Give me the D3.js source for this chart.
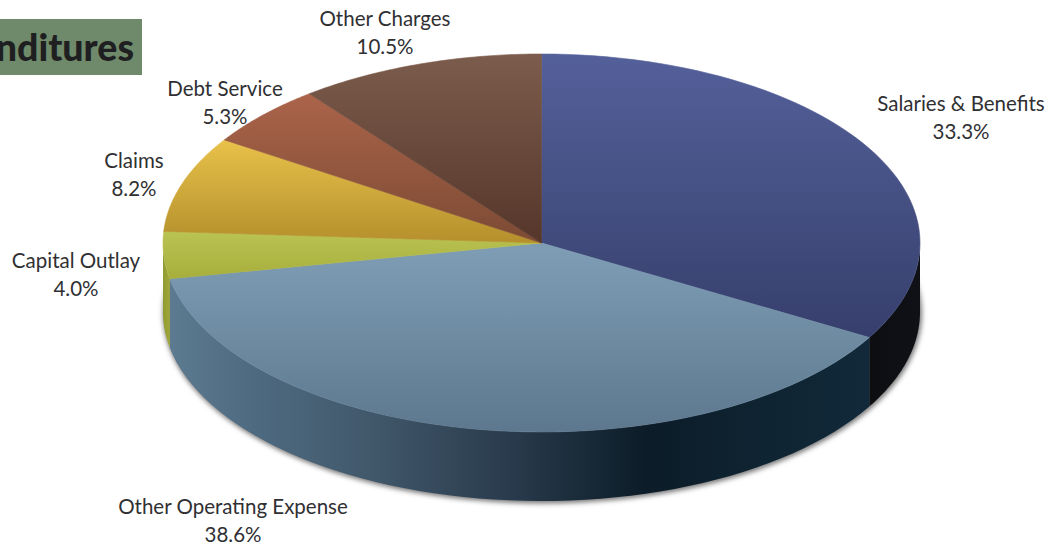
<!DOCTYPE html>
<html><head><meta charset="utf-8">
<script src="https://cdnjs.cloudflare.com/ajax/libs/d3/7.8.5/d3.min.js"></script>
<style>html,body{margin:0;padding:0;background:#fff}svg{display:block}
text{font-family:Lato,"Open Sans",sans-serif;fill:#303033}</style></head><body>
<svg id="c" width="1050" height="544"></svg>
<script>
const categories=["Salaries & Benefits","Other Operating Expense","Capital Outlay","Claims","Debt Service","Other Charges"];
const shares=[33.3,38.6,4.0,8.2,5.3,10.5];
const topLight=["#54609a","#7f9eb6","#bac453","#e8c24a","#ab644a","#7c5c4c"];
const topDark=["#363f6c","#5d788e","#a7ae3c","#b48f2c","#7c4a34","#55362a"];
const sideStops=[["#0d0e12","#0f1116"],["#5c7a90","#4e6a80","#42596c","#27394a","#0c1c28","#0f2432","#11293a"],["#8f9a30","#a2a838"],["#b48f2c","#b48f2c"],["#7c4a34","#7c4a34"],["#55362a","#55362a"]];
const sideOffsets=[[0,1],[0,.12,.28,.5,.68,.85,1],[0,1],[0,1],[0,1],[0,1]];
const labelLines=[["Salaries & Benefits","33.3%"],["Other Operating Expense","38.6%"],["Capital Outlay","4.0%"],["Claims","8.2%"],["Debt Service","5.3%"],["Other Charges","10.5%"]];
const labelX=[961,233,76,134,225,385];
const labelY=[111,514,268,168,96,26];
const titleText="nditures";

const svg=d3.select("#c"),defs=svg.append("defs");
const cx=541.5,cy=243,rx=378.5,ry=189,depth=69;
const arcs=d3.pie().sort(null).value(d=>d)(shares);
const px=a=>cx+rx*Math.sin(a), py=a=>cy-ry*Math.cos(a);
const sample=(a0,a1)=>d3.range(0,61).map(i=>a0+(a1-a0)*i/60);

// title box
svg.append("rect").attr("x",0).attr("y",19).attr("width",142).attr("height",56).attr("fill","#6e8a6a");
svg.append("text").attr("x",134).attr("y",61).attr("text-anchor","end").attr("font-weight",900)
 .attr("font-size",37.5).style("fill","#1f1f22").text(titleText);

// shadow
const f=defs.append("filter").attr("id","blur").attr("x","-5%").attr("y","-5%").attr("width","110%").attr("height","110%");
f.append("feGaussianBlur").attr("stdDeviation",2.5);
svg.append("ellipse").attr("cx",cx+1).attr("cy",cy+depth+1.5).attr("rx",rx+1).attr("ry",ry+1)
 .attr("fill","#777").attr("filter","url(#blur)");
svg.append("ellipse").attr("cx",cx).attr("cy",cy).attr("rx",rx).attr("ry",ry).attr("fill","#fff");

// side walls
const g=svg.append("g");
arcs.forEach((d,i)=>{
  const a0=Math.max(d.startAngle,Math.PI/2), a1=Math.min(d.endAngle,3*Math.PI/2);
  if(a1<=a0) return;
  const xs=[px(a0),px(a1)], x0=d3.min(xs), x1=d3.max(xs);
  const gr=defs.append("linearGradient").attr("id","side"+i).attr("gradientUnits","userSpaceOnUse")
    .attr("x1",x0).attr("x2",x1).attr("y1",0).attr("y2",0);
  sideStops[i].forEach((c,k)=>gr.append("stop").attr("offset",sideOffsets[i][k]).attr("stop-color",c));
  const pts=sample(a0,a1);
  const line=d3.line().x(p=>p[0]).y(p=>p[1]);
  const upper=pts.map(a=>[px(a),py(a)]);
  const lower=pts.slice().reverse().map(a=>[px(a),py(a)+depth]);
  g.append("path").attr("d",line(upper.concat(lower))+"Z").attr("fill",`url(#side${i})`);
});

// top face
arcs.forEach((d,i)=>{
  const pts=sample(d.startAngle,d.endAngle).map(a=>[px(a),py(a)]).concat([[cx,cy]]);
  const ys=pts.map(p=>p[1]);
  const gr=defs.append("linearGradient").attr("id","top"+i).attr("gradientUnits","userSpaceOnUse")
    .attr("x1",0).attr("x2",0).attr("y1",d3.min(ys)).attr("y2",d3.max(ys));
  gr.append("stop").attr("offset",0).attr("stop-color",topLight[i]);
  gr.append("stop").attr("offset",1).attr("stop-color",topDark[i]);
  svg.append("path").attr("d",d3.line()(pts)+"Z").attr("fill",`url(#top${i})`)
    .attr("stroke",`url(#top${i})`).attr("stroke-width",0.6).attr("stroke-linejoin","round");
});

// labels
labelLines.forEach((ls,i)=>{
  const t=svg.append("text").attr("text-anchor","middle").attr("font-size",20.5);
  ls.forEach((s,k)=>t.append("tspan").attr("x",labelX[i]).attr("y",labelY[i]+k*28).text(s));
});
</script></body></html>
